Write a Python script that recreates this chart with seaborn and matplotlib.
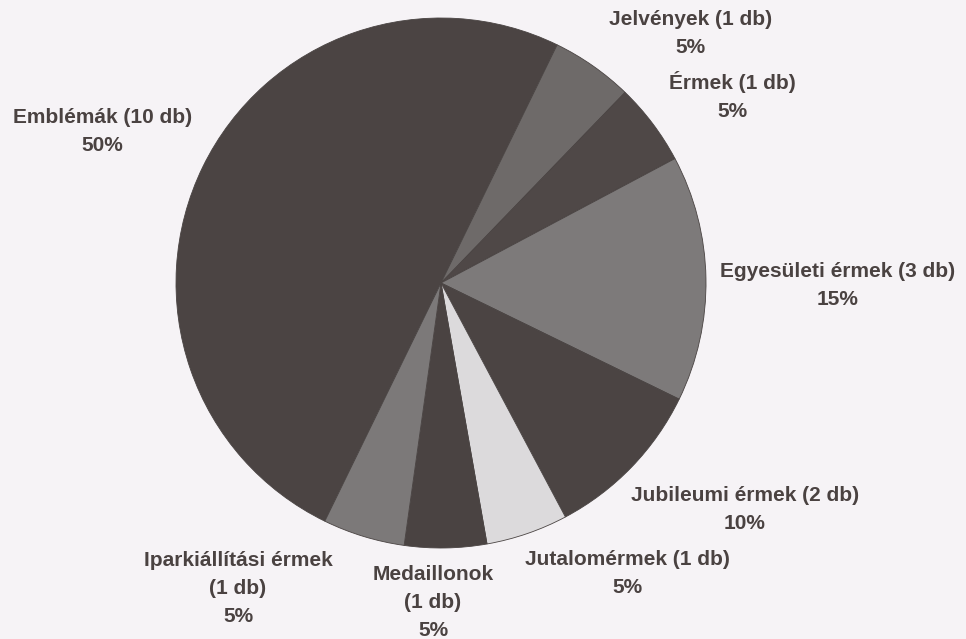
import matplotlib
matplotlib.use("Agg")
import matplotlib.pyplot as plt
import seaborn as sns

# data (darabszám, clockwise from the lower-left)
categories = ["Emblémák", "Jelvények", "Érmek", "Egyesületi érmek",
              "Jubileumi érmek", "Jutalomérmek", "Medaillonok",
              "Iparkiállítási érmek"]
counts = [10, 1, 1, 3, 2, 1, 1, 1]
percents = [50, 5, 5, 15, 10, 5, 5, 5]
slice_colors = ["#4b4443", "#6e6a69", "#4f4847", "#7d7a7a",
                "#4b4443", "#dcdadc", "#4a4342", "#7c7979"]

# label block centres in pie units (radius = 1)
label_pos = [(-1.279, 0.57), (0.943, 0.94), (1.098, 0.706), (1.498, -0.008),
             (1.147, -0.853), (0.702, -1.098), (-0.03, -1.204), (-0.766, -1.151)]
label_text = [
    f"{categories[0]} ({counts[0]} db)\n{percents[0]}%",
    f"{categories[1]} ({counts[1]} db)\n{percents[1]}%",
    f"{categories[2]} ({counts[2]} db)\n{percents[2]}%",
    f"{categories[3]} ({counts[3]} db)\n{percents[3]}%",
    f"{categories[4]} ({counts[4]} db)\n{percents[4]}%",
    f"{categories[5]} ({counts[5]} db)\n{percents[5]}%",
    f"{categories[6]}\n({counts[6]} db)\n{percents[6]}%",
    f"{categories[7]}\n({counts[7]} db)\n{percents[7]}%",
]

sns.set_theme(style="white")
plt.rcParams['font.family'] = ['Liberation Sans', 'DejaVu Sans']

bg = "#f6f3f6"
fig = plt.figure(figsize=(9.66, 6.39), dpi=100, facecolor=bg)
ax = fig.add_axes([0, 0, 1, 1])
ax.set_facecolor(bg)

ax.pie(counts, colors=slice_colors, startangle=244, counterclock=False,
       radius=1.0, center=(0, 0),
       wedgeprops=dict(linewidth=0.6, edgecolor="#4a4443"))

for (x, y), txt in zip(label_pos, label_text):
    ax.text(x, y, txt, ha="center", va="center", fontsize=15,
            fontweight="bold", color="#4a4241", linespacing=1.6)

# 1 unit = 265 px, pie centre at (441, 283) px
ax.set_xlim(-441 / 265, (966 - 441) / 265)
ax.set_ylim(-(639 - 283) / 265, 283 / 265)
ax.set_aspect("equal")
ax.axis("off")

fig.savefig("out.png", dpi=100, facecolor=bg)
